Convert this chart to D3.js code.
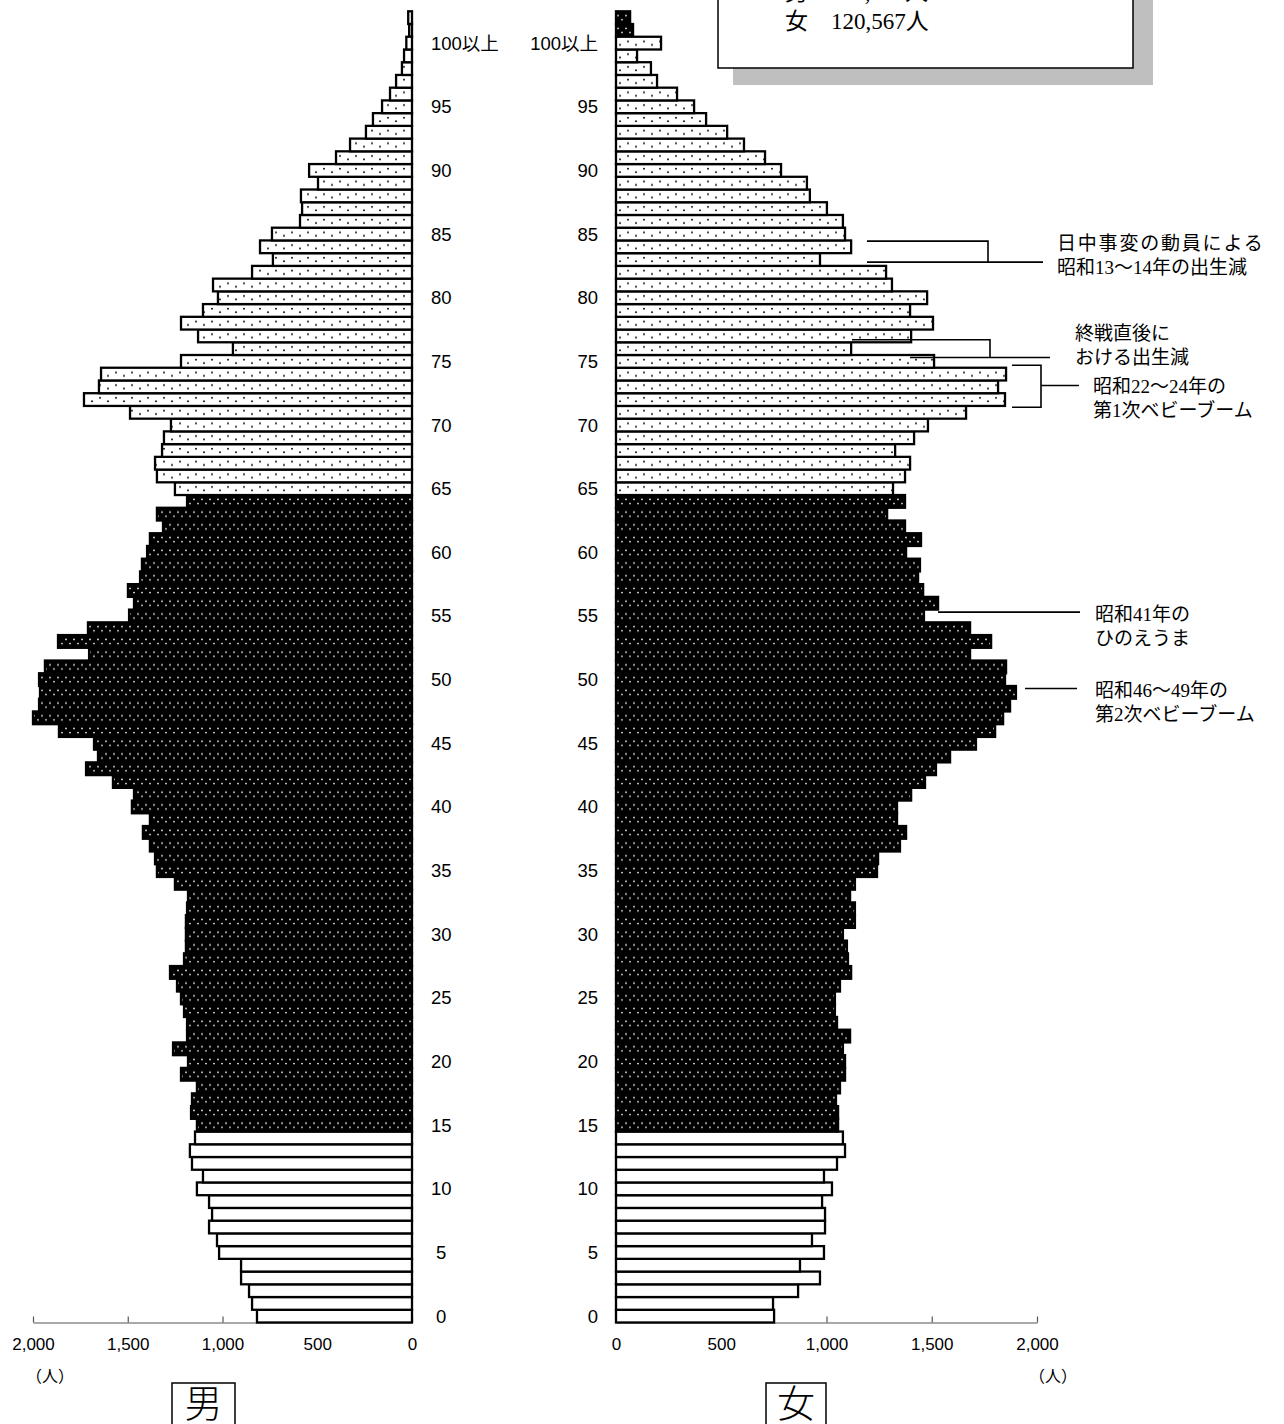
<!DOCTYPE html>
<html>
<head>
<meta charset="utf-8">
<script src="https://cdn.jsdelivr.net/npm/d3@7"></script>
<style>
  body { margin: 0; background: #fff; }
  svg { display: block; }
  .tick text { font-family: "Liberation Sans", Arial, sans-serif; font-size: 17px; fill: #000; }
  .ageLabel { font-family: "Liberation Sans", "Noto Sans CJK JP", sans-serif; font-size: 18.5px; }
  .note { font-family: "Liberation Serif", "Noto Sans CJK JP", serif; font-size: 19px; }
</style>
</head>
<body>
<script>
var svgWidth = 1284
var svgHeight = 1424

// ages 0 .. 100 (100 = "100以上")
var ages = d3.range(0, 101);

// male population by age (0 .. 100以上)
var maleValues = [
  818, 844, 860, 902, 902, 1018, 1029, 1071, 1055, 1071,
  1135, 1103, 1161, 1172, 1145, 1135, 1166, 1161, 1135, 1219,
  1182, 1261, 1187, 1187, 1203, 1219, 1240, 1277, 1203, 1193,
  1193, 1193, 1187, 1182, 1251, 1346, 1356, 1383, 1420, 1383,
  1478, 1467, 1578, 1720, 1657, 1678, 1863, 2000, 1968, 1963,
  1968, 1937, 1704, 1868, 1710, 1493, 1467, 1499, 1435, 1425,
  1398, 1383, 1314, 1346, 1187,
  1251, 1346, 1356, 1319, 1309, 1272, 1488, 1731, 1652, 1641,
  1219, 945, 1129, 1219, 1103, 1024, 1050, 844, 734, 802,
  739, 591, 580, 586, 496, 543, 401, 327, 243, 206,
  158, 116, 84, 53, 42, 30
];

// female population by age (0 .. 100以上)
var femaleValues = [
  751, 746, 865, 969, 874, 988, 931, 993, 993, 979,
  1026, 988, 1050, 1088, 1078, 1055, 1055, 1045, 1064, 1088,
  1088, 1078, 1112, 1050, 1040, 1040, 1064, 1117, 1102, 1097,
  1078, 1135, 1135, 1112, 1135, 1240, 1245, 1349, 1378, 1335,
  1335, 1402, 1468, 1520, 1587, 1710, 1801, 1839, 1872, 1900,
  1848, 1853, 1682, 1782, 1682, 1463, 1530, 1459, 1435, 1444,
  1378, 1449, 1373, 1288, 1373,
  1316, 1373, 1397, 1326, 1416, 1482, 1663, 1848, 1815, 1853,
  1511, 1117, 1402, 1506, 1397, 1478, 1311, 1283, 969, 1117,
  1088, 1078, 1002, 921, 907, 784, 708, 608, 528, 428,
  371, 290, 195, 166, 100, 214
];

// two unlabeled rows drawn above 100以上 (top row first)
var extraMale = [20, 15];
var extraFemale = [67, 81];

var tickValues = [0, 500, 1000, 1500, 2000];

var femaleTotal = "女　120,567人";
var maleTotal = "男　116,842人";

// notes: age = position of the first text line's baseline
var notes = [
  { lines: ["日中事変の動員による", "昭和13～14年の出生減"], x: 1057, age: 83.74, spacing: 1.8 },
  { lines: ["終戦直後に", "おける出生減"], x: 1075, age: 76.68, spacing: 0 },
  { lines: ["昭和22～24年の", "第1次ベビーブーム"], x: 1093, age: 72.52, spacing: 0 },
  { lines: ["昭和41年の", "ひのえうま"], x: 1095, age: 54.6, spacing: 0 },
  { lines: ["昭和46～49年の", "第2次ベビーブーム"], x: 1095, age: 48.65, spacing: 0 }
];

var svg = d3.select("body").append("svg").attr("width", svgWidth).attr("height", svgHeight);

// rows from top to bottom
var rowIds = ["x0", "x1"].concat(ages.slice().reverse().map(String));
var yBand = d3.scaleBand().domain(rowIds).range([11.3, 1322.5]);
var h = yBand.bandwidth();
var ageY = d3.scaleLinear().domain([0, 100]).range([yBand("0") + h / 2, yBand("100") + h / 2]);

var xMale = d3.scaleLinear().domain([0, 2000]).range([412, 33]);
var xFemale = d3.scaleLinear().domain([0, 2000]).range([616, 1037]);

// patterns
var defs = svg.append("defs");
var pOld = defs.append("pattern").attr("id", "pOld").attr("patternUnits", "userSpaceOnUse")
  .attr("x", 0).attr("y", 11.3).attr("width", 16).attr("height", h);
pOld.append("rect").attr("width", 16).attr("height", h).attr("fill", "#fff");
pOld.append("circle").attr("cx", 4).attr("cy", h * 0.36).attr("r", 0.95).attr("fill", "#000");
pOld.append("circle").attr("cx", 12).attr("cy", h * 0.64).attr("r", 0.95).attr("fill", "#000");

var pWork = defs.append("pattern").attr("id", "pWork").attr("patternUnits", "userSpaceOnUse")
  .attr("x", 0).attr("y", 11.3).attr("width", 8).attr("height", h);
pWork.append("rect").attr("width", 8).attr("height", h).attr("fill", "#000");
pWork.append("circle").attr("cx", 2).attr("cy", h * 0.34).attr("r", 0.85).attr("fill", "#fff");
pWork.append("circle").attr("cx", 6).attr("cy", h * 0.66).attr("r", 0.85).attr("fill", "#fff");

function fillFor(style) {
  if (style == "young") return "#fff";
  if (style == "work") return "url(#pWork)";
  return "url(#pOld)";
}
function styleOf(age) {
  if (age < 15) return "young";
  if (age < 65) return "work";
  return "old";
}

// axes
var maleAxis = d3.axisBottom(xMale).tickValues(tickValues).tickSize(-6).tickSizeOuter(0)
  .tickPadding(15).tickFormat(d3.format(","));
var femaleAxis = d3.axisBottom(xFemale).tickValues(tickValues).tickSize(-6).tickSizeOuter(0)
  .tickPadding(15).tickFormat(d3.format(","));

[maleAxis, femaleAxis].forEach(function(ax) {
  var g = svg.append("g").attr("transform", "translate(0,1322.5)").call(ax);
  g.select(".domain").attr("stroke", "#555").attr("stroke-width", 1.2);
  g.selectAll(".tick line").attr("stroke", "#555").attr("stroke-width", 1.2);
});

// bar data
var maleRows = extraMale.map(function(v, i) { return { id: "x" + i, v: v, style: "old" }; })
  .concat(ages.map(function(a) { return { id: String(a), v: maleValues[a], style: styleOf(a) }; }));
var femaleRows = extraFemale.map(function(v, i) { return { id: "x" + i, v: v, style: "work" }; })
  .concat(ages.map(function(a) { return { id: String(a), v: femaleValues[a], style: styleOf(a) }; }));

svg.append("g").selectAll("rect").data(maleRows).enter().append("rect")
  .attr("x", d => xMale(d.v))
  .attr("y", d => yBand(d.id))
  .attr("width", d => xMale(0) - xMale(d.v))
  .attr("height", h)
  .attr("fill", d => fillFor(d.style))
  .attr("stroke", "#000").attr("stroke-width", 2.3);

svg.append("g").selectAll("rect").data(femaleRows).enter().append("rect")
  .attr("x", d => xFemale(0))
  .attr("y", d => yBand(d.id))
  .attr("width", d => xFemale(d.v) - xFemale(0))
  .attr("height", h)
  .attr("fill", d => fillFor(d.style))
  .attr("stroke", "#000").attr("stroke-width", 2.3);

// age labels
var labelAges = ages.filter(a => a % 5 == 0);
svg.append("g").selectAll("text").data(labelAges).enter().append("text")
  .classed("ageLabel", true)
  .attr("x", d => d < 10 ? 436 : 431)
  .attr("y", d => ageY(d) + 6.5)
  .text(d => d == 100 ? "100以上" : d);
svg.append("g").selectAll("text").data(labelAges).enter().append("text")
  .classed("ageLabel", true)
  .attr("x", 598).attr("text-anchor", "end")
  .attr("y", d => ageY(d) + 6.5)
  .text(d => d == 100 ? "100以上" : d);

// unit labels
svg.append("text").attr("x", 50).attr("y", 1382).attr("text-anchor", "middle")
  .style("font-family", "Noto Sans CJK JP").style("font-size", "16px").text("（人）");
svg.append("text").attr("x", 1053).attr("y", 1382).attr("text-anchor", "middle")
  .style("font-family", "Noto Sans CJK JP").style("font-size", "16px").text("（人）");

// sex boxes
[{ t: "男", x: 172, w: 63 }, { t: "女", x: 766, w: 60 }].forEach(function(b) {
  svg.append("rect").attr("x", b.x).attr("y", 1383).attr("width", b.w).attr("height", 60)
    .attr("fill", "#fff").attr("stroke", "#000").attr("stroke-width", 1.5);
  svg.append("text").attr("x", b.x + b.w / 2).attr("y", 1417).attr("text-anchor", "middle")
    .style("font-family", "Noto Sans CJK JP").style("font-size", "38px").style("font-weight", 300).text(b.t);
});

// total box
svg.append("rect").attr("x", 733).attr("y", -60).attr("width", 420).attr("height", 145).attr("fill", "#bfbfbf");
svg.append("rect").attr("x", 718).attr("y", -60).attr("width", 415).attr("height", 128)
  .attr("fill", "#fff").attr("stroke", "#000").attr("stroke-width", 1.5);
svg.append("text").classed("note", true).attr("x", 785).attr("y", 0).style("font-size", "23px").text(maleTotal);
svg.append("text").classed("note", true).attr("x", 785).attr("y", 29).style("font-size", "23px").text(femaleTotal);

// annotation leader lines
var lines = svg.append("g").attr("stroke", "#000").attr("stroke-width", 1.6).attr("fill", "none");
lines.append("path").attr("d", `M867,${ageY(84.45)}H988V${ageY(82.8)}M867,${ageY(82.8)}H1043`);
lines.append("path").attr("d", `M852,${ageY(76.7)}H990V${ageY(75.3)}M910,${ageY(75.3)}H1050`);
lines.append("path").attr("d", `M1012,${ageY(74.7)}H1041V${ageY(71.4)}H1012M1041,${ageY(73.1)}H1079`);
lines.append("path").attr("d", `M938,${ageY(55.3)}H1080`);
lines.append("path").attr("d", `M1025,${ageY(49.3)}H1077`);

notes.forEach(function(n) {
  n.lines.forEach(function(t, i) {
    svg.append("text").classed("note", true).attr("x", n.x)
      .attr("y", ageY(n.age) + i * 24)
      .style("letter-spacing", i == 0 ? n.spacing + "px" : "0px")
      .text(t);
  });
});
</script>
</body>
</html>
